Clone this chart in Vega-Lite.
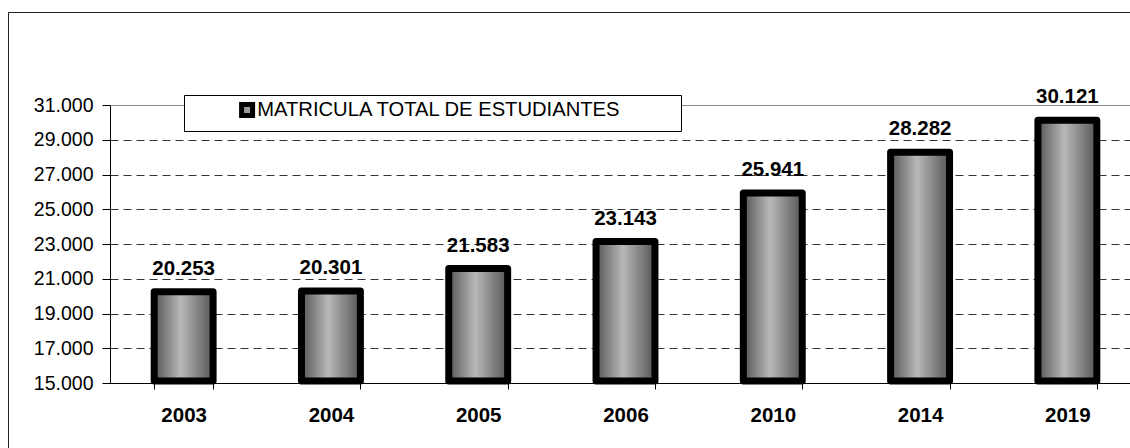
{
  "$schema": "https://vega.github.io/schema/vega-lite/v6.json",
  "width": 1124,
  "height": 438,
  "padding": {"left": 8, "top": 12, "right": 0, "bottom": 0},
  "autosize": {"type": "none"},
  "background": "white",
  "view": {"stroke": "#222", "strokeWidth": 1, "strokeDash": [1124, 1562, 438]},
  "config": {
    "locale": {"number": {"decimal": ",", "thousands": ".", "grouping": [3], "currency": ["$", ""]}},
    "view": {"stroke": "#222", "strokeWidth": 1, "strokeDash": [1124, 1562, 438]},
    "font": "Liberation Sans"
  },
  "data": {
    "values": [
      {"anio": "2003", "matricula": 20253},
      {"anio": "2004", "matricula": 20301},
      {"anio": "2005", "matricula": 21583},
      {"anio": "2006", "matricula": 23143},
      {"anio": "2010", "matricula": 25941},
      {"anio": "2014", "matricula": 28282},
      {"anio": "2019", "matricula": 30121}
    ]
  },
  "encoding": {
    "x": {
      "field": "anio",
      "type": "ordinal",
      "sort": null,
      "scale": {"type": "band", "range": [102, 1133], "paddingInner": 0.6, "paddingOuter": 0.3},
      "axis": {
        "title": null,
        "orient": "bottom",
        "offset": -67,
        "labelAngle": 0,
        "labelFont": "Liberation Sans",
        "labelFontSize": 20.5,
        "labelFontWeight": "bold",
        "labelColor": "black",
        "labelPadding": 16,
        "domainColor": "black",
        "domainWidth": 1,
        "tickColor": "black",
        "tickSize": 6,
        "tickBand": "extent",
        "grid": false
      }
    },
    "y": {
      "field": "matricula",
      "type": "quantitative",
      "scale": {"domain": [15000, 31000], "range": [371, 93], "nice": false, "zero": false},
      "axis": {
        "title": null,
        "orient": "left",
        "offset": -102,
        "values": [15000, 17000, 19000, 21000, 23000, 25000, 27000, 29000, 31000],
        "format": ",d",
        "labelFont": "Liberation Sans",
        "labelFontSize": 19.5,
        "labelColor": "black",
        "labelPadding": 9,
        "tickSize": 8,
        "tickColor": "black",
        "domainColor": "black",
        "grid": true,
        "gridWidth": 1,
        "gridColor": {"condition": {"test": "datum.value == 31000", "value": "#888888"}, "value": "#333333"},
        "gridDash": {"condition": {"test": "datum.value == 31000", "value": []}, "value": [8, 5]}
      }
    }
  },
  "layer": [
    {
      "mark": {
        "type": "bar",
        "fill": {
          "gradient": "linear",
          "x1": 0, "x2": 1, "y1": 0, "y2": 0,
          "stops": [
            {"offset": 0, "color": "#555555"},
            {"offset": 0.45, "color": "#b8b8b8"},
            {"offset": 1, "color": "#555555"}
          ]
        },
        "stroke": "black",
        "strokeWidth": 7,
        "strokeJoin": "round",
        "y2Offset": -2
      },
      "encoding": {"y2": {"datum": 15000}}
    },
    {
      "mark": {
        "type": "text",
        "dy": -17,
        "baseline": "alphabetic",
        "font": "Liberation Sans",
        "fontSize": 20.5,
        "fontWeight": "bold",
        "color": "black"
      },
      "encoding": {"text": {"field": "matricula", "type": "quantitative", "format": ",d"}}
    },
    {
      "transform": [{"filter": "false"}],
      "mark": {"type": "point", "shape": "square", "filled": true},
      "encoding": {
        "color": {
          "datum": "MATRICULA TOTAL DE ESTUDIANTES",
          "type": "nominal",
          "scale": {"domain": ["MATRICULA TOTAL DE ESTUDIANTES"], "range": ["#9a9a9a"]},
          "legend": {
            "orient": "none",
            "legendX": 176,
            "legendY": 83,
            "title": "XXXX",
            "titleOrient": "right",
            "titleColor": "white",
            "titleFont": "Liberation Sans",
            "titleFontSize": 20.2,
            "titleFontWeight": "normal",
            "titlePadding": 0,
            "padding": 5,
            "strokeColor": "black",
            "fillColor": "white",
            "symbolType": "square",
            "symbolSize": 121,
            "symbolStrokeColor": "black",
            "symbolStrokeWidth": 5,
            "symbolOpacity": 1,
            "symbolOffset": 48,
            "labelFont": "Liberation Sans",
            "labelFontSize": 20.2,
            "labelColor": "black",
            "labelLimit": 900,
            "labelOffset": 0
          }
        }
      }
    }
  ]
}
